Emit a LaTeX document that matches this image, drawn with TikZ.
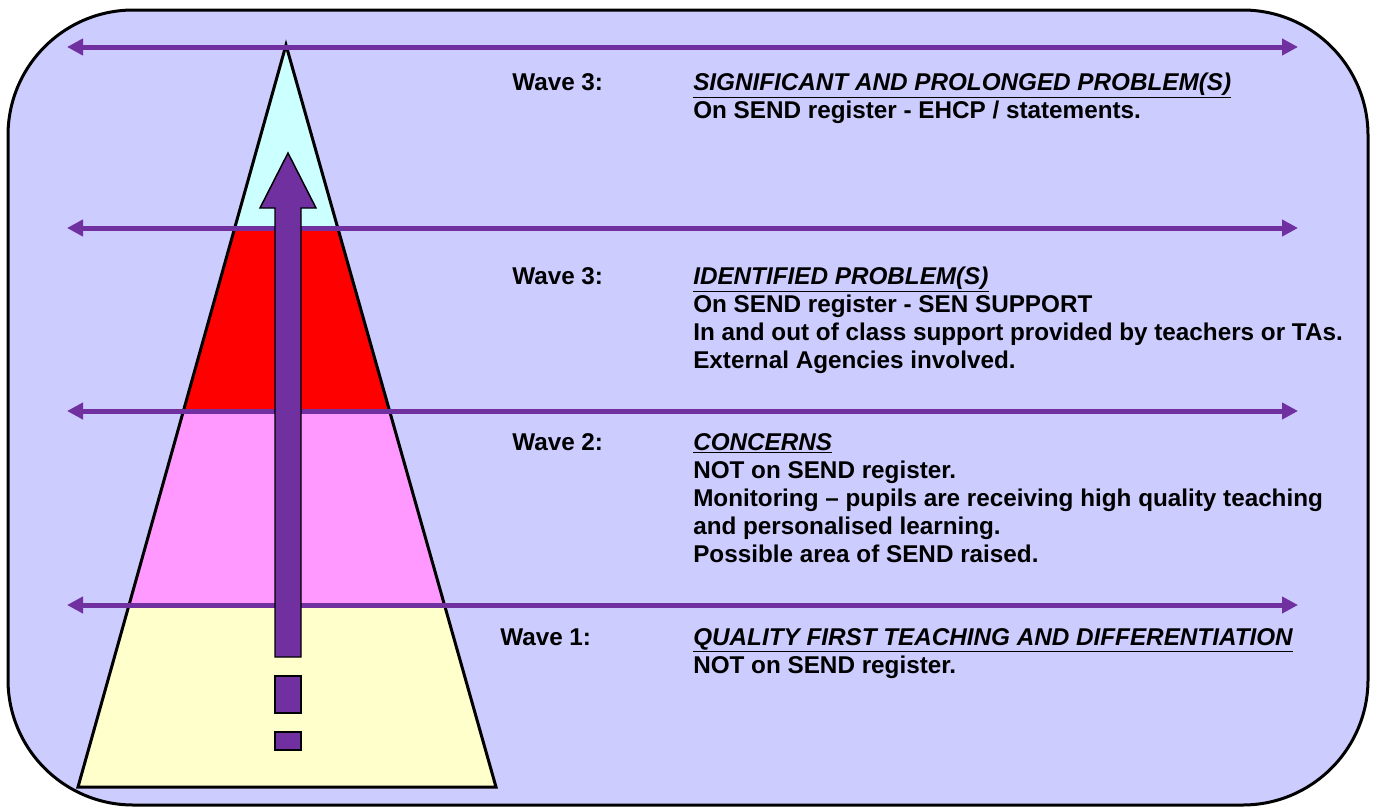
\documentclass[tikz,border=0pt]{standalone}
\usepackage{fontspec}
\setmainfont{Liberation Sans}
\usetikzlibrary{arrows.meta}
\definecolor{backblue}{HTML}{CCCCFF}
\definecolor{wavepurple}{HTML}{7030A0}
\definecolor{tipcyan}{HTML}{CCFFFF}
\definecolor{bandred}{HTML}{FF0000}
\definecolor{bandpink}{HTML}{FF99FF}
\definecolor{bandyellow}{HTML}{FFFFCC}
\begin{document}
\begin{tikzpicture}[x=0.75pt,y=-0.75pt,
  wave/.style={draw=wavepurple,line width=3.75pt,{Triangle[length=12pt,width=12pt]}-{Triangle[length=12pt,width=12pt]}},
  wavelabel/.style={anchor=base west,inner sep=0pt,font=\fontsize{18.2}{21}\selectfont\bfseries},
  desc/.style={wavelabel,align=left},
  bar/.style={draw,fill=wavepurple,line width=1.1pt}]
\useasboundingbox (0,0) rectangle (1374,807);
\draw[fill=backblue,line width=2.25pt,rounded corners=94pt] (8,10) rectangle (1368,805);

% pyramid
\coordinate (top) at (286,45);
\coordinate (bl) at (78,787);
\coordinate (br) at (496,787);
\begin{scope}
\clip (top) -- (bl) -- (br) -- cycle;
\fill[tipcyan] (0,0) rectangle (1374,228);
\fill[bandred] (0,228) rectangle (1374,411);
\fill[bandpink] (0,411) rectangle (1374,605);
\fill[bandyellow] (0,605) rectangle (1374,807);
\end{scope}
\draw[line width=2.25pt,line join=miter] (top) -- (bl) -- (br) -- cycle;

% wave lines
\coordinate (l1) at (67,47);   \coordinate (r1) at (1298,47);
\coordinate (l2) at (67,228);  \coordinate (r2) at (1298,228);
\coordinate (l3) at (67,411);  \coordinate (r3) at (1298,411);
\coordinate (l4) at (67,605);  \coordinate (r4) at (1298,605);
\path[wave] (l1) -- (r1);
\path[wave] (l2) -- (r2);
\path[wave] (l3) -- (r3);
\path[wave] (l4) -- (r4);

% upward arrow
\path[bar] (275,657) -- (275,208) -- (260,208) -- (288,153) -- (316,208)
  -- (301,208) -- (301,657) -- cycle;
\path[bar] (275,676) rectangle (301,713);
\path[bar] (275,732) rectangle (301,750);

% texts (desc nodes sit on the baseline of their last line)
\node[wavelabel] (w4) at (512,90) {Wave 3:};
\node[desc] (d4) at (693,118) {\textit{\underline{SIGNIFICANT AND PROLONGED PROBLEM(S)}}\\
  On SEND register - EHCP / statements.};
\node[wavelabel] (w3) at (512,284) {Wave 3:};
\node[desc] (d3) at (693,368) {\textit{\underline{IDENTIFIED PROBLEM(S)}}\\
  On SEND register - SEN SUPPORT\\
  In and out of class support provided by teachers or TAs.\\
  External Agencies involved.};
\node[wavelabel] (w2) at (512,450) {Wave 2:};
\node[desc] (d2) at (693,562) {\textit{\underline{CONCERNS}}\\
  NOT on SEND register.\\
  Monitoring -- pupils are receiving high quality teaching\\
  and personalised learning.\\
  Possible area of SEND raised.};
\node[wavelabel] (w1) at (500,645) {Wave 1:};
\node[desc] (d1) at (693,673) {\textit{\underline{QUALITY FIRST TEACHING AND DIFFERENTIATION}}\\
  NOT on SEND register.};
\end{tikzpicture}
\end{document}
